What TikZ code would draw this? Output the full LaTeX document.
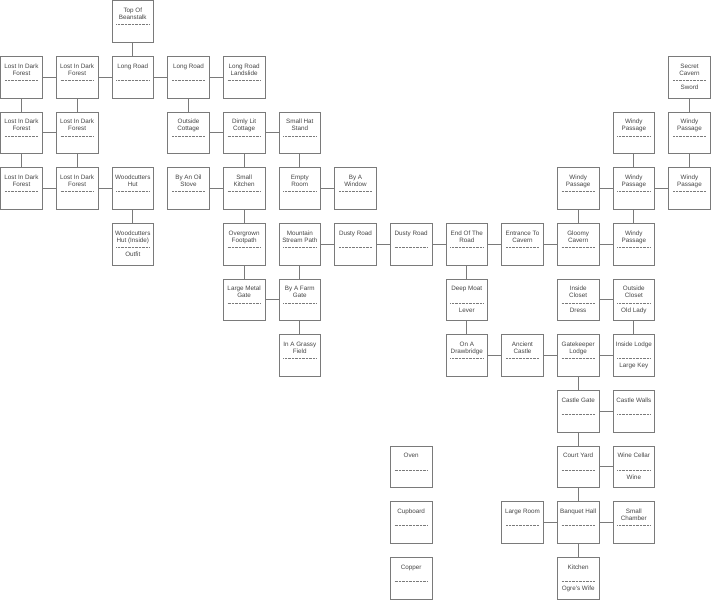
\documentclass[tikz,border=0pt]{standalone}
\usepackage{fontspec}
\setmainfont{Liberation Sans}
\definecolor{edgegray}{HTML}{7A7A7A}
\definecolor{txtgray}{HTML}{444444}
\tikzset{
  roombox/.style={draw=edgegray, line width=0.8pt, rectangle, minimum width=41.7pt, minimum height=41.7pt, inner sep=0pt},
  roomtxt/.style={anchor=base, inner sep=0pt, text=txtgray, font=\fontsize{6.3}{7.2}\selectfont},
  sepline/.style={draw=edgegray, line width=0.6pt, dash pattern=on 0.9pt off 0.5pt},
  conn/.style={draw=edgegray, line width=0.8pt}
}
\newcommand\mkroom[6]{%
  \node[roombox] (#1) at (#2+0.3745,#3+0.3745) {};
  \node[roomtxt] at ([yshift=-12.2pt]#1.north) {#4};
  \node[roomtxt] at ([yshift=-19.4pt]#1.north) {#5};
  \draw[sepline] ([xshift=4.8pt,yshift=-24.3pt]#1.north west) -- ([xshift=-4.4pt,yshift=-24.3pt]#1.north east);
  \node[roomtxt] at ([yshift=-33.5pt]#1.north) {#6};
}
\begin{document}
\begin{tikzpicture}[x=55.67pt,y=-55.67pt]
\useasboundingbox (-0.6pt,0.6pt) rectangle (710.4pt,-598.4pt);
% row 0
\mkroom{beanstalk}{2}{0}{Top Of}{Beanstalk}{}
% row 1
\mkroom{fa}{0}{1}{Lost In Dark}{Forest}{}
\mkroom{fb}{1}{1}{Lost In Dark}{Forest}{}
\mkroom{longa}{2}{1}{Long Road}{}{}
\mkroom{longb}{3}{1}{Long Road}{}{}
\mkroom{landslide}{4}{1}{Long Road}{Landslide}{}
\mkroom{secret}{12}{1}{Secret}{Cavern}{Sword}
% row 2
\mkroom{fc}{0}{2}{Lost In Dark}{Forest}{}
\mkroom{fd}{1}{2}{Lost In Dark}{Forest}{}
\mkroom{outcot}{3}{2}{Outside}{Cottage}{}
\mkroom{dimly}{4}{2}{Dimly Lit}{Cottage}{}
\mkroom{hatstand}{5}{2}{Small Hat}{Stand}{}
\mkroom{wpa}{11}{2}{Windy}{Passage}{}
\mkroom{wpb}{12}{2}{Windy}{Passage}{}
% row 3
\mkroom{fe}{0}{3}{Lost In Dark}{Forest}{}
\mkroom{ff}{1}{3}{Lost In Dark}{Forest}{}
\mkroom{woodhut}{2}{3}{Woodcutters}{Hut}{}
\mkroom{oilstove}{3}{3}{By An Oil}{Stove}{}
\mkroom{smallkit}{4}{3}{Small}{Kitchen}{}
\mkroom{empty}{5}{3}{Empty}{Room}{}
\mkroom{window}{6}{3}{By A}{Window}{}
\mkroom{wpc}{10}{3}{Windy}{Passage}{}
\mkroom{wpd}{11}{3}{Windy}{Passage}{}
\mkroom{wpe}{12}{3}{Windy}{Passage}{}
% row 4
\mkroom{woodin}{2}{4}{Woodcutters}{Hut (Inside)}{Outfit}
\mkroom{footpath}{4}{4}{Overgrown}{Footpath}{}
\mkroom{stream}{5}{4}{Mountain}{Stream Path}{}
\mkroom{dustya}{6}{4}{Dusty Road}{}{}
\mkroom{dustyb}{7}{4}{Dusty Road}{}{}
\mkroom{endroad}{8}{4}{End Of The}{Road}{}
\mkroom{entrance}{9}{4}{Entrance To}{Cavern}{}
\mkroom{gloomy}{10}{4}{Gloomy}{Cavern}{}
\mkroom{wpf}{11}{4}{Windy}{Passage}{}
% row 5
\mkroom{metalgate}{4}{5}{Large Metal}{Gate}{}
\mkroom{farmgate}{5}{5}{By A Farm}{Gate}{}
\mkroom{moat}{8}{5}{Deep Moat}{}{Lever}
\mkroom{inclos}{10}{5}{Inside}{Closet}{Dress}
\mkroom{outclos}{11}{5}{Outside}{Closet}{Old Lady}
% row 6
\mkroom{grassy}{5}{6}{In A Grassy}{Field}{}
\mkroom{drawbridge}{8}{6}{On A}{Drawbridge}{}
\mkroom{ancient}{9}{6}{Ancient}{Castle}{}
\mkroom{gatekeeper}{10}{6}{Gatekeeper}{Lodge}{}
\mkroom{inlodge}{11}{6}{Inside Lodge}{}{Large Key}
% row 7
\mkroom{castlegate}{10}{7}{Castle Gate}{}{}
\mkroom{castlewalls}{11}{7}{Castle Walls}{}{}
% row 8
\mkroom{oven}{7}{8}{Oven}{}{}
\mkroom{courtyard}{10}{8}{Court Yard}{}{}
\mkroom{winecellar}{11}{8}{Wine Cellar}{}{Wine}
% row 9
\mkroom{cupboard}{7}{9}{Cupboard}{}{}
\mkroom{largeroom}{9}{9}{Large Room}{}{}
\mkroom{banquet}{10}{9}{Banquet Hall}{}{}
\mkroom{smallchamber}{11}{9}{Small}{Chamber}{}
% row 10
\mkroom{copper}{7}{10}{Copper}{}{}
\mkroom{kitchen}{10}{10}{Kitchen}{}{Ogre's Wife}
% connectors
\draw[conn] (beanstalk) -- (longa);
\draw[conn] (fa) -- (fb);
\draw[conn] (fb) -- (longa);
\draw[conn] (longa) -- (longb);
\draw[conn] (longb) -- (landslide);
\draw[conn] (fa) -- (fc);
\draw[conn] (fb) -- (fd);
\draw[conn] (longb) -- (outcot);
\draw[conn] (fc) -- (fd);
\draw[conn] (outcot) -- (dimly);
\draw[conn] (dimly) -- (hatstand);
\draw[conn] (fc) -- (fe);
\draw[conn] (fd) -- (ff);
\draw[conn] (fe) -- (ff);
\draw[conn] (ff) -- (woodhut);
\draw[conn] (woodhut) -- (woodin);
\draw[conn] (oilstove) -- (smallkit);
\draw[conn] (dimly) -- (smallkit);
\draw[conn] (hatstand) -- (empty);
\draw[conn] (empty) -- (window);
\draw[conn] (smallkit) -- (footpath);
\draw[conn] (footpath) -- (metalgate);
\draw[conn] (metalgate) -- (farmgate);
\draw[conn] (stream) -- (farmgate);
\draw[conn] (farmgate) -- (grassy);
\draw[conn] (stream) -- (dustya);
\draw[conn] (dustya) -- (dustyb);
\draw[conn] (dustyb) -- (endroad);
\draw[conn] (endroad) -- (entrance);
\draw[conn] (entrance) -- (gloomy);
\draw[conn] (gloomy) -- (wpf);
\draw[conn] (wpc) -- (gloomy);
\draw[conn] (wpd) -- (wpf);
\draw[conn] (wpc) -- (wpd);
\draw[conn] (wpd) -- (wpe);
\draw[conn] (wpa) -- (wpd);
\draw[conn] (wpb) -- (wpe);
\draw[conn] (secret) -- (wpb);
\draw[conn] (endroad) -- (moat);
\draw[conn] (moat) -- (drawbridge);
\draw[conn] (drawbridge) -- (ancient);
\draw[conn] (ancient) -- (gatekeeper);
\draw[conn] (gatekeeper) -- (inlodge);
\draw[conn] (inclos) -- (outclos);
\draw[conn] (outclos) -- (inlodge);
\draw[conn] (gatekeeper) -- (castlegate);
\draw[conn] (castlegate) -- (castlewalls);
\draw[conn] (castlegate) -- (courtyard);
\draw[conn] (courtyard) -- (winecellar);
\draw[conn] (courtyard) -- (banquet);
\draw[conn] (largeroom) -- (banquet);
\draw[conn] (banquet) -- (smallchamber);
\draw[conn] (banquet) -- (kitchen);
\end{tikzpicture}
\end{document}
